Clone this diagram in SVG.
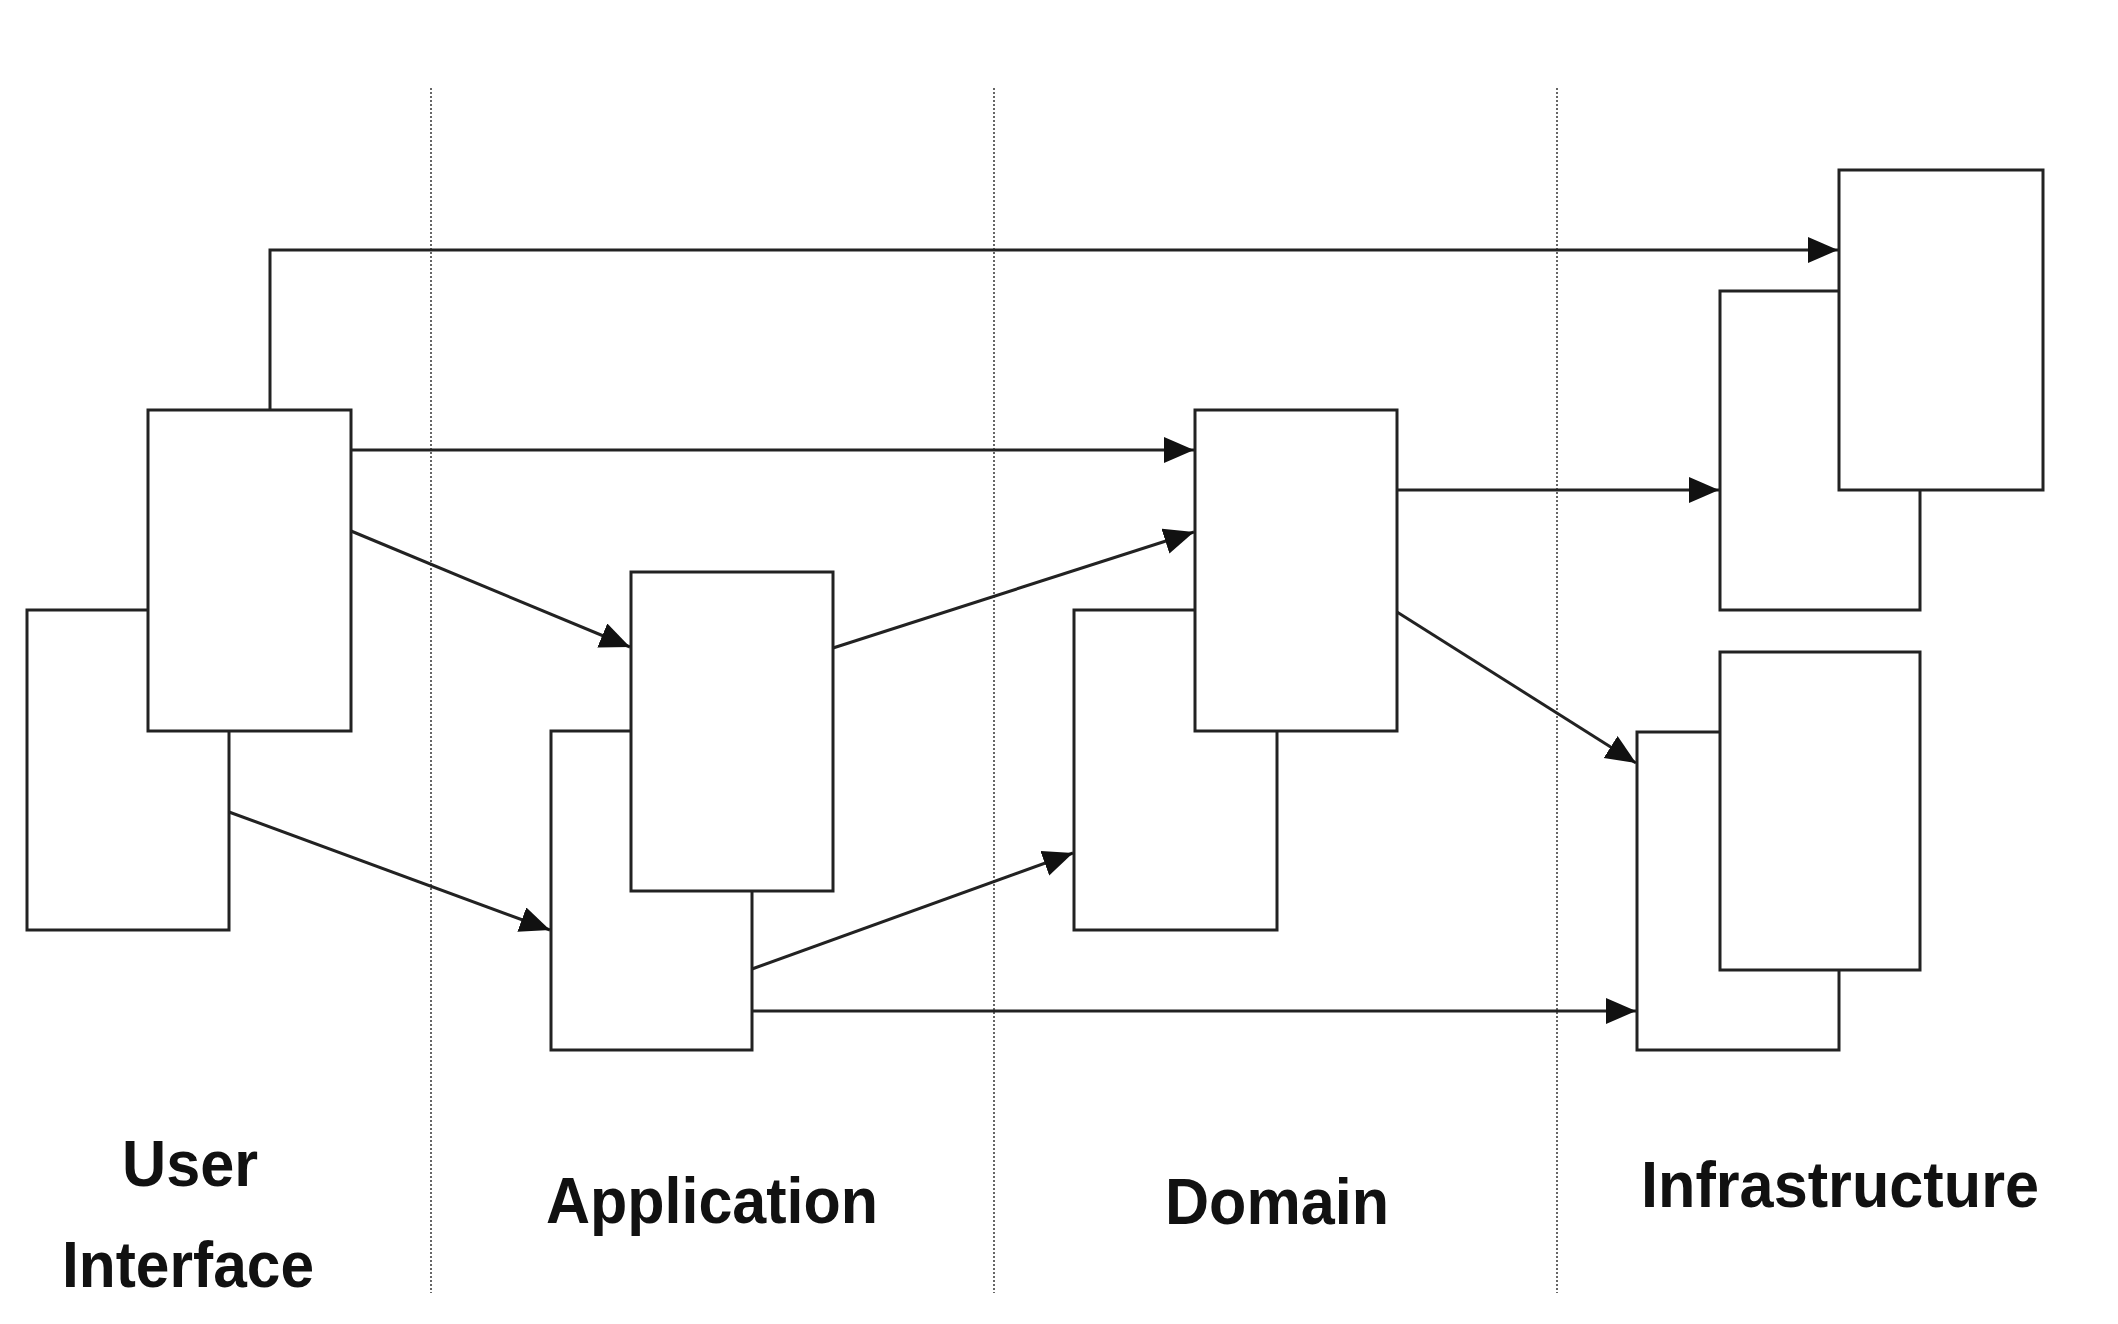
<svg xmlns="http://www.w3.org/2000/svg" width="2118" height="1324" viewBox="0 0 2118 1324">
<style>
.box{fill:#fff;stroke:#222;stroke-width:3}
.sep{stroke:#666;stroke-width:2;stroke-dasharray:2 2;fill:none}
.con{stroke:#222;stroke-width:3;fill:none;marker-end:url(#arr)}
.lbl{font-family:"Liberation Sans",Arial,sans-serif;font-weight:bold;font-size:64px;fill:#111;text-anchor:middle}
</style>
<defs>
<marker id="arr" markerUnits="userSpaceOnUse" markerWidth="32" markerHeight="28" refX="30" refY="13" orient="auto">
<path d="M0,0 L30,13 L0,26 z" fill="#111"/>
</marker>
</defs>
<rect width="2118" height="1324" fill="#fff"/>
<g id="separators">
<line class="sep" x1="431" y1="88" x2="431" y2="1293"/>
<line class="sep" x1="994" y1="88" x2="994" y2="1293"/>
<line class="sep" x1="1557" y1="88" x2="1557" y2="1293"/>
</g>
<g id="ui-back"><rect class="box" x="27" y="610" width="202" height="320"/></g>
<g id="ui-front"><rect class="box" x="148" y="410" width="203" height="321"/></g>
<g id="app-back"><rect class="box" x="551" y="731" width="201" height="319"/></g>
<g id="app-front"><rect class="box" x="631" y="572" width="202" height="319"/></g>
<g id="domain-back"><rect class="box" x="1074" y="610" width="203" height="320"/></g>
<g id="domain-front"><rect class="box" x="1195" y="410" width="202" height="321"/></g>
<g id="infra-top-back"><rect class="box" x="1720" y="291" width="200" height="319"/></g>
<g id="infra-top-front"><rect class="box" x="1839" y="170" width="204" height="320"/></g>
<g id="infra-bottom-back"><rect class="box" x="1637" y="732" width="202" height="318"/></g>
<g id="infra-bottom-front"><rect class="box" x="1720" y="652" width="200" height="318"/></g>
<g id="connectors">
<path class="con" d="M270,410 L270,250 L1838,250"/>
<path class="con" d="M351,450 L1194,450"/>
<path class="con" d="M351,531 L630,647"/>
<path class="con" d="M229,812 L550,930"/>
<path class="con" d="M833,648 L1194,532"/>
<path class="con" d="M752,969 L1073,853"/>
<path class="con" d="M752,1011 L1636,1011"/>
<path class="con" d="M1397,490 L1719,490"/>
<path class="con" d="M1397,612 L1636,763"/>
</g>
<g id="labels">
<text class="lbl" x="190" y="1186" textLength="136" lengthAdjust="spacingAndGlyphs">User</text>
<text class="lbl" x="188" y="1287" textLength="252" lengthAdjust="spacingAndGlyphs">Interface</text>
<text class="lbl" x="712" y="1223" textLength="332" lengthAdjust="spacingAndGlyphs">Application</text>
<text class="lbl" x="1277" y="1224" textLength="224" lengthAdjust="spacingAndGlyphs">Domain</text>
<text class="lbl" x="1840" y="1207" textLength="398" lengthAdjust="spacingAndGlyphs">Infrastructure</text>
</g>
</svg>
